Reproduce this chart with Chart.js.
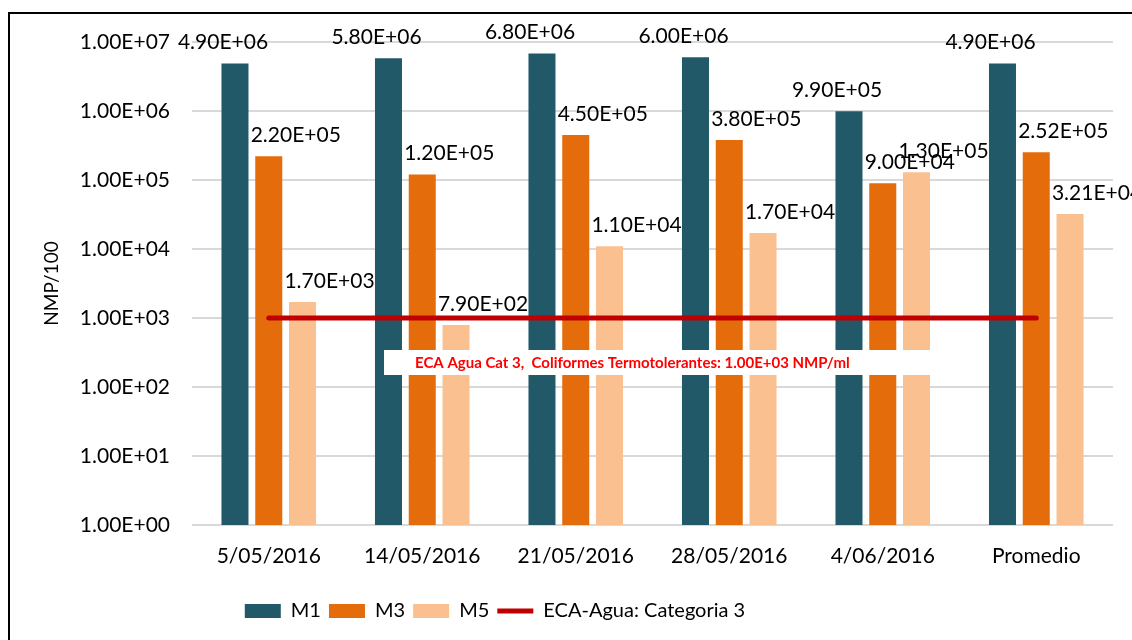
<!DOCTYPE html>
<html>
<head>
<meta charset="utf-8">
<script src="https://cdn.jsdelivr.net/npm/chart.js@4.4.1/dist/chart.umd.min.js"></script>
<style>
  html, body { margin: 0; padding: 0; background: #fff; overflow: hidden; }
  #wrap { position: relative; width: 1132px; height: 640px; }
  #frame { position: absolute; left: 8px; top: 12px; width: 1200px; height: 700px; border: 2px solid #000; }
  canvas { position: absolute; left: 0; top: 0; }
</style>
</head>
<body>
<div id="wrap">
  <div id="frame"></div>
  <canvas id="chart" width="1132" height="640"></canvas>
</div>
<script>
const categories = ['5/05/2016', '14/05/2016', '21/05/2016', '28/05/2016', '4/06/2016', 'Promedio'];
const m1 = [4.9e6, 5.8e6, 6.8e6, 6.0e6, 9.9e5, 4.9e6];
const m3 = [2.2e5, 1.2e5, 4.5e5, 3.8e5, 9.0e4, 2.52e5];
const m5 = [1.7e3, 7.9e2, 1.1e4, 1.7e4, 1.3e5, 3.21e4];
const ecaLimit = [1e3, 1e3, 1e3, 1e3, 1e3, 1e3];
const yTicks = [1, 10, 100, 1e3, 1e4, 1e5, 1e6, 1e7];
const noteText = 'ECA Agua Cat 3,  Coliformes Termotolerantes: 1.00E+03 NMP/ml';

const FONT = 'Lato, "Open Sans", sans-serif';

// 4900000 -> "4.90E+06"
function sci(v) {
  const [m, e] = v.toExponential(2).split('e');
  const n = parseInt(e, 10);
  return m + 'E' + (n < 0 ? '-' : '+') + String(Math.abs(n)).padStart(2, '0');
}

// value labels above the bars (Excel put them a bit off-centre)
const valueLabels = {
  id: 'valueLabels',
  afterDatasetsDraw(chart) {
    const ctx = chart.ctx;
    const shift = [-12, 27, 27];
    ctx.save();
    ctx.font = '21px ' + FONT;
    ctx.fillStyle = '#000';
    ctx.textAlign = 'center';
    ctx.textBaseline = 'middle';
    chart.data.datasets.forEach((ds, i) => {
      if (ds.type === 'line') return;
      chart.getDatasetMeta(i).data.forEach((bar, j) => {
        ctx.fillText(sci(ds.data[j]), bar.x + shift[i], bar.y - 21);
      });
    });
    ctx.restore();
  }
};

// white note box under the limit line
const limitNote = {
  id: 'limitNote',
  afterDatasetsDraw(chart) {
    const ctx = chart.ctx;
    const area = chart.chartArea;
    const yLine = chart.scales.y.getPixelForValue(1e3);
    const left = area.left + 192;
    const right = area.left + 746;
    const top = yLine + 32;
    ctx.save();
    ctx.fillStyle = '#fff';
    ctx.fillRect(left, top, right - left, 25);
    ctx.font = 'bold 15px ' + FONT;
    ctx.fillStyle = '#FF0000';
    ctx.textAlign = 'left';
    ctx.textBaseline = 'middle';
    ctx.fillText(noteText, left + 31, top + 13);
    ctx.restore();
  }
};

// Excel legend is not centred on the canvas
const legendShift = {
  id: 'legendShift',
  afterLayout(chart) {
    chart.legend.left = 95;
    chart.legend.right = 895;
  }
};

new Chart(document.getElementById('chart'), {
  type: 'bar',
  data: {
    labels: categories,
    datasets: [
      { label: 'M1', data: m1, backgroundColor: '#215968', pointStyle: 'rect', order: 1 },
      { label: 'M3', data: m3, backgroundColor: '#E46C0A', pointStyle: 'rect', order: 1 },
      { label: 'M5', data: m5, backgroundColor: '#FAC090', pointStyle: 'rect', order: 1 },
      {
        type: 'line', label: 'ECA-Agua: Categoria 3', data: ecaLimit,
        borderColor: '#C00000', backgroundColor: '#C00000', borderWidth: 5,
        borderCapStyle: 'round', pointRadius: 0, pointStyle: 'line', order: 0
      }
    ]
  },
  options: {
    responsive: false,
    animation: false,
    categoryPercentage: 0.66,
    barPercentage: 0.8,
    layout: { padding: { top: 42, right: 19, left: 0, bottom: 9 } },
    plugins: {
      legend: {
        position: 'bottom',
        labels: {
          usePointStyle: true,
          pointStyleWidth: 36,
          boxHeight: 14,
          padding: 8,
          color: '#000',
          font: { family: FONT, size: 20 },
          sort: (a, b) => a.datasetIndex - b.datasetIndex
        }
      },
      tooltip: { enabled: false }
    },
    scales: {
      x: {
        grid: { display: false, drawTicks: false },
        border: { display: false },
        ticks: { color: '#000', padding: 19, font: { family: FONT, size: 21 }, maxRotation: 0 },
        afterFit: s => { s.height = 68; }
      },
      y: {
        type: 'logarithmic',
        min: 1,
        max: 1e7,
        afterBuildTicks: s => { s.ticks = yTicks.map(v => ({ value: v })); },
        grid: { color: '#D9D9D9', lineWidth: 2, drawTicks: false },
        border: { display: false },
        ticks: { color: '#000', padding: 22, font: { family: FONT, size: 21 }, callback: v => sci(v) },
        title: { display: true, text: 'NMP/100', color: '#000', font: { family: FONT, size: 19 }, padding: { top: 40, bottom: 0 } },
        afterFit: s => { s.width = 192; }
      }
    }
  },
  plugins: [valueLabels, limitNote, legendShift]
});
</script>
</body>
</html>
